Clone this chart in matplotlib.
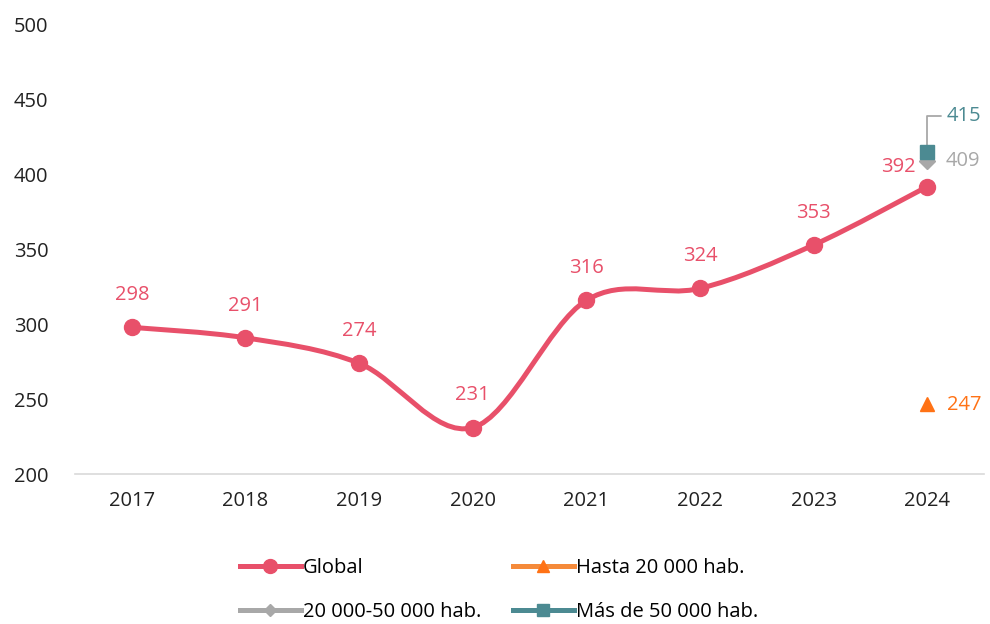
import matplotlib
matplotlib.use("Agg")
import matplotlib.pyplot as plt
import numpy as np
from matplotlib.path import Path
from matplotlib.patches import PathPatch
from matplotlib.lines import Line2D

# ---------- Data ----------
years = ["2017", "2018", "2019", "2020", "2021", "2022", "2023", "2024"]
global_vals = [298, 291, 274, 231, 316, 324, 353, 392]
hasta_20k = 247        # 2024 only
de_20k_50k = 409       # 2024 only
mas_50k = 415          # 2024 only

c_global = "#E8506A"
c_orange = "#FF7215"
c_gray = "#A8A8A8"
c_teal = "#4C8A92"

plt.rcParams["font.family"] = ["Open Sans", "DejaVu Sans"]

fig = plt.figure(figsize=(9.9, 6.24), dpi=100)
ax = fig.add_axes([75 / 990, 1 - 474 / 624, (984 - 75) / 990, (474 - 25) / 624])

x = np.arange(len(years))
y = np.array(global_vals, dtype=float)


# ---------- smoothed line (Catmull-Rom as bezier, like Excel) ----------
def smooth_path(xs, ys, t=1 / 6):
    pts = np.column_stack([xs, ys])
    verts = [pts[0]]
    codes = [Path.MOVETO]
    n = len(pts)
    for i in range(n - 1):
        p0 = pts[max(i - 1, 0)]
        p1 = pts[i]
        p2 = pts[i + 1]
        p3 = pts[min(i + 2, n - 1)]
        c1 = p1 + (p2 - p0) * t
        c2 = p2 - (p3 - p1) * t
        verts += [c1, c2, p2]
        codes += [Path.CURVE4] * 3
    return Path(verts, codes)


ax.add_patch(PathPatch(smooth_path(x, y), facecolor="none", edgecolor=c_global,
                       lw=3.6, capstyle="round", joinstyle="round", zorder=3))
ax.plot(x, y, "o", color=c_global, ms=11.5, zorder=4)

# other series, only 2024
xl = x[-1]
ax.plot(xl, hasta_20k, "^", color=c_orange, ms=10, zorder=4)
ax.plot(xl, de_20k_50k, "D", color=c_gray, ms=8, zorder=4)
ax.plot(xl, mas_50k, "s", color=c_teal, ms=10, zorder=5)

# ---------- labels ----------
fs = 14.5
for i, v in enumerate(global_vals[:-1]):
    ax.annotate(str(v), (x[i], v), xytext=(0, 16), textcoords="offset points",
                ha="center", va="bottom", color=c_global, fontsize=fs)
ax.annotate(str(global_vals[-1]), (xl, global_vals[-1]), xytext=(-8, 14),
            textcoords="offset points", ha="right", va="center", color=c_global, fontsize=fs)
ax.annotate(str(hasta_20k), (xl, hasta_20k), xytext=(14, -1), textcoords="offset points",
            ha="left", va="center", color=c_orange, fontsize=fs)
ax.annotate(str(de_20k_50k), (xl, de_20k_50k), xytext=(13, 0), textcoords="offset points",
            ha="left", va="center", color=c_gray, fontsize=fs)
# leader line for 415
ax.annotate(str(mas_50k), (xl, mas_50k), xytext=(14, 26), textcoords="offset points",
            ha="left", va="center", color=c_teal, fontsize=fs,
            arrowprops=dict(arrowstyle="-", color=c_gray, lw=1.3,
                            connectionstyle="angle,angleA=0,angleB=90,rad=0",
                            shrinkA=2, shrinkB=3))

# ---------- axes ----------
ax.set_xlim(-0.5, len(years) - 0.5)
ax.set_ylim(200, 500)
ax.set_yticks(range(200, 501, 50))
ax.set_xticks(x)
ax.set_xticklabels(years)
for s in ["top", "right", "left"]:
    ax.spines[s].set_visible(False)
ax.spines["bottom"].set_color("#D9D9D9")
ax.spines["bottom"].set_linewidth(1.2)
ax.tick_params(axis="both", length=0, labelsize=fs, colors="#222222")
ax.tick_params(axis="y", pad=19)
ax.tick_params(axis="x", pad=12)

# ---------- legend (row-major order) ----------
h_global = Line2D([], [], color=c_global, lw=3.6, marker="o", ms=10)
h_hasta = Line2D([], [], color="#F58A3A", lw=3.6, marker="^", ms=9, mfc=c_orange, mec=c_orange)
h_mid = Line2D([], [], color=c_gray, lw=3.6, marker="D", ms=6)
h_mas = Line2D([], [], color=c_teal, lw=3.6, marker="s", ms=8)
handles = [h_global, h_mid, h_hasta, h_mas]
labels = ["Global", "20 000-50 000 hab.", "Hasta 20 000 hab.", "Más de 50 000 hab."]
fig.legend(handles, labels, ncol=2, loc="center", bbox_to_anchor=(0.504, 0.054),
           frameon=False, fontsize=fs, handlelength=3.0, handletextpad=0.1,
           columnspacing=1.6, labelspacing=1.2)

fig.savefig("out.png", dpi=100, facecolor="white")
